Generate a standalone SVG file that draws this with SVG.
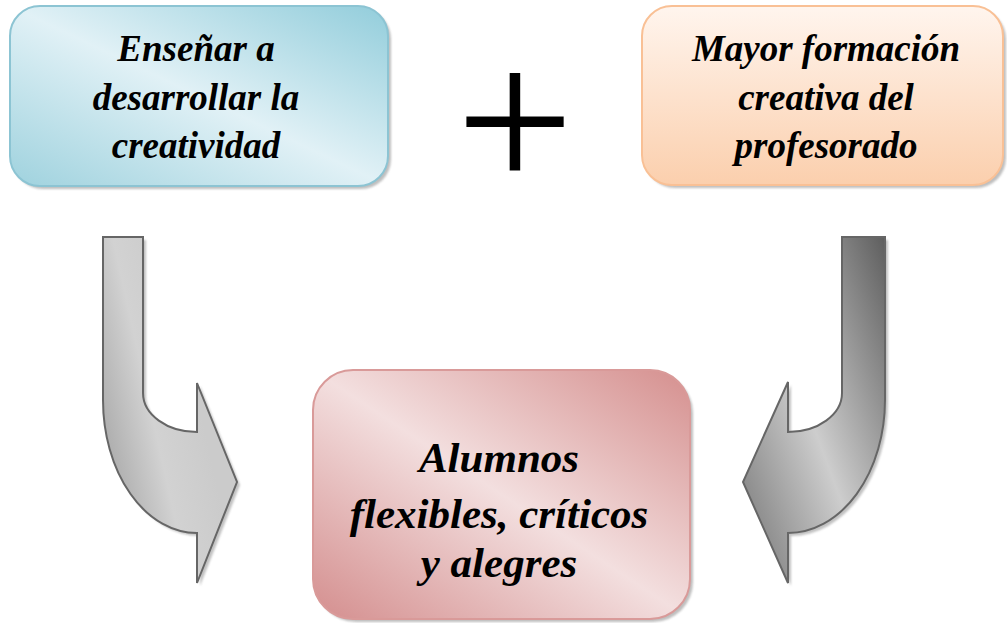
<svg xmlns="http://www.w3.org/2000/svg" width="1007" height="623" viewBox="0 0 1007 623">
  <defs>
    <linearGradient id="gBlue" x1="1" y1="0" x2="0" y2="1">
      <stop offset="0" stop-color="#92cddb"/>
      <stop offset="0.5" stop-color="#e1f1f6"/>
      <stop offset="1" stop-color="#9fd2de"/>
    </linearGradient>
    <linearGradient id="gOrange" x1="0" y1="0" x2="0" y2="1">
      <stop offset="0" stop-color="#fff5ee"/>
      <stop offset="1" stop-color="#fbcfad"/>
    </linearGradient>
    <linearGradient id="gPink" x1="1" y1="0" x2="0" y2="1">
      <stop offset="0" stop-color="#d58f8e"/>
      <stop offset="0.5" stop-color="#f3dfdf"/>
      <stop offset="1" stop-color="#d48e8e"/>
    </linearGradient>
    <linearGradient id="gArrowL" x1="0" y1="0.85" x2="0.7" y2="0.45">
      <stop offset="0" stop-color="#9e9e9e"/>
      <stop offset="0.6" stop-color="#d2d2d2"/>
      <stop offset="1" stop-color="#cbcbcb"/>
    </linearGradient>
    <linearGradient id="gArrowR" x1="1" y1="0" x2="0" y2="0.9">
      <stop offset="0" stop-color="#5e5e5e"/>
      <stop offset="0.55" stop-color="#cdcdcd"/>
      <stop offset="1" stop-color="#7c7c7c"/>
    </linearGradient>
    <filter id="sh" x="-10%" y="-10%" width="120%" height="120%">
      <feGaussianBlur stdDeviation="1"/>
    </filter>
  </defs>
  <style>
    .box { stroke-width: 2; }
    .shadow { fill: #8a8a8a; opacity: 0.55; filter: url(#sh); }
    .t { font-family: "Liberation Serif", "Times New Roman", serif; font-weight: bold; font-style: italic; fill: #000; text-anchor: middle; }
    .top { font-size: 37px; }
    .big { font-size: 43px; }
    .arrow { stroke: #666; stroke-width: 2; stroke-linejoin: miter; }
    .ash { fill: #999; opacity: 0.6; filter: url(#sh); }
  </style>

  <g id="node-ensenar">
    <rect class="shadow" x="13" y="9" width="378" height="180" rx="30"/>
    <rect class="box" x="10" y="6" width="378" height="180" rx="30" fill="url(#gBlue)" stroke="#8cc4d3"/>
    <text class="t top" x="196" y="61">Enseñar a</text>
    <text class="t top" x="196" y="110">desarrollar la</text>
    <text class="t top" x="196" y="158">creatividad</text>
  </g>

  <g id="node-plus">
    <text x="515" y="192" font-family="Liberation Serif, serif" font-size="209" text-anchor="middle" fill="#000">+</text>
  </g>

  <g id="node-mayor">
    <rect class="shadow" x="645" y="9" width="361" height="179" rx="30"/>
    <rect class="box" x="642" y="6" width="361" height="179" rx="30" fill="url(#gOrange)" stroke="#f9c095"/>
    <text class="t top" x="826" y="61">Mayor formación</text>
    <text class="t top" x="826" y="110">creativa del</text>
    <text class="t top" x="826" y="158">profesorado</text>
  </g>

  <g id="node-alumnos">
    <rect class="shadow" x="316" y="373" width="377" height="249" rx="40"/>
    <rect class="box" x="313" y="370" width="377" height="249" rx="40" fill="url(#gPink)" stroke="#d99a99"/>
    <text class="t big" x="499" y="472">Alumnos</text>
    <text class="t big" x="499" y="528">flexibles, críticos</text>
    <text class="t big" x="499" y="577">y alegres</text>
  </g>

  <g id="connectors">
    <path class="ash" d="M106,240 L146,240 L146,396 A54,39 0 0 0 200,435 L200,386 L240,485 L200,586 L200,536 A94,133 0 0 1 106,403 Z"/>
    <path class="arrow" fill="url(#gArrowL)" d="M103,237 L143,237 L143,393 A54,39 0 0 0 197,432 L197,383 L237,482 L197,583 L197,533 A94,133 0 0 1 103,400 Z"/>
    <path class="ash" d="M888,240 L845,240 L845,396 A54,39 0 0 1 791,435 L791,385 L746,485 L791,586 L791,536 A97,133 0 0 0 888,403 Z"/>
    <path class="arrow" fill="url(#gArrowR)" d="M885,237 L842,237 L842,393 A54,39 0 0 1 788,432 L788,382 L743,482 L788,583 L788,533 A97,133 0 0 0 885,400 Z"/>
  </g>
</svg>
